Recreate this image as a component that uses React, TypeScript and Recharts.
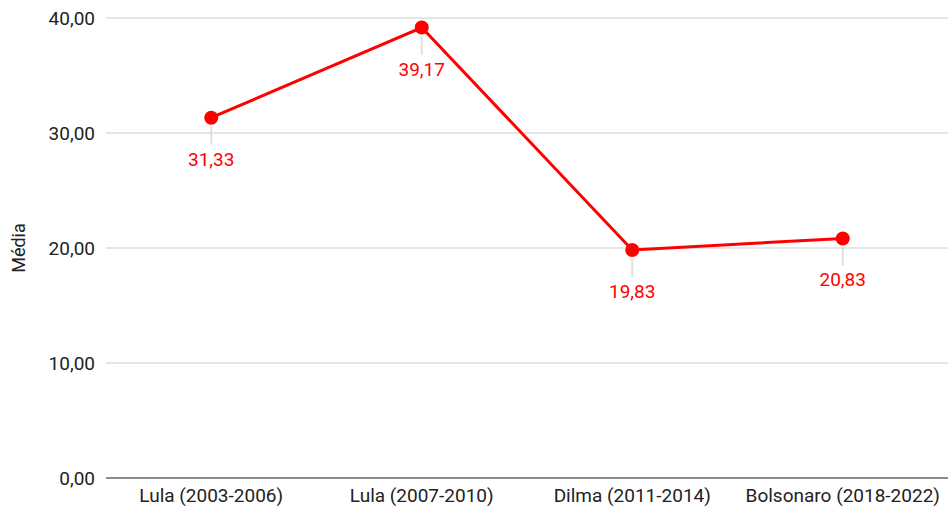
import React from 'react';
import { LineChart, Line, XAxis, YAxis, CartesianGrid, LabelList } from 'recharts';

const periods = ['Lula (2003-2006)', 'Lula (2007-2010)', 'Dilma (2011-2014)', 'Bolsonaro (2018-2022)'];
const media = [31.33, 39.17, 19.83, 20.83];
const yTicks = [0, 10, 20, 30, 40];

const data = periods.map((name, i) => ({ name, media: media[i] }));

const fmt = (v: number) => v.toFixed(2).replace('.', ',');

const FONT = 'Roboto';

const PointLabel = (props: any) => {
  const { x, y, value } = props;
  return (
    <g>
      <line x1={x} y1={y + 9} x2={x} y2={y + 27} stroke="#e0e0e0" strokeWidth={2} />
      <text x={x} y={y + 43} textAnchor="middle" dominantBaseline="middle" fill="#ff0000" fontSize={19} fontFamily={FONT}>
        {fmt(value)}
      </text>
    </g>
  );
};

const App: React.FC = () => {
  return (
    <div style={{ width: 948, height: 513, background: '#fff' }}>
      <style>{'body{margin:0}'}</style>
      <LineChart width={948} height={513} data={data} margin={{ top: 18, right: 0, bottom: 0, left: 0 }}>
        <CartesianGrid vertical={false} stroke="#cccccc" />
        <XAxis
          dataKey="name"
          scale="band"
          tickLine={false}
          axisLine={{ stroke: '#333333' }}
          tick={{ fill: '#222222', fontSize: 19, fontFamily: FONT }}
          tickMargin={5}
          height={35}
          interval={0}
        />
        <YAxis
          domain={[0, 40]}
          ticks={yTicks}
          tickFormatter={fmt}
          axisLine={false}
          tickLine={false}
          width={106}
          tickMargin={5}
          tick={{ fill: '#222222', fontSize: 19, fontFamily: FONT }}
          label={{ value: 'Média', angle: -90, position: 'insideLeft', dx: 14, style: { fill: '#222222', fontSize: 18, fontFamily: FONT, textAnchor: 'middle' } }}
        />
        <Line
          type="linear"
          dataKey="media"
          stroke="#ff0000"
          strokeWidth={3}
          dot={{ r: 7, fill: '#ff0000', stroke: '#ff0000', strokeWidth: 0 }}
          activeDot={false}
          isAnimationActive={false}
        >
          <LabelList dataKey="media" content={<PointLabel />} />
        </Line>
      </LineChart>
    </div>
  );
};

export default App;
